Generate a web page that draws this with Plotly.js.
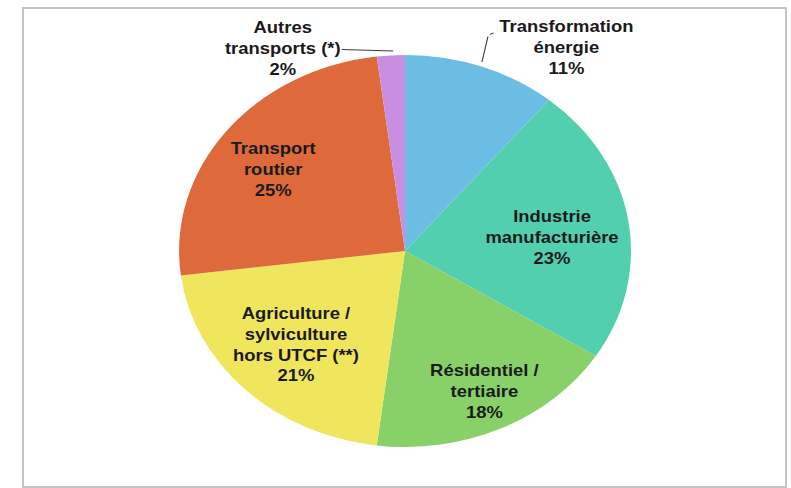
<!DOCTYPE html>
<html>
<head>
<meta charset="utf-8">
<script src="https://cdn.plot.ly/plotly-3.0.1.min.js"></script>
<style>
  html, body { margin: 0; padding: 0; background: #ffffff; overflow: hidden; }
  #wrap { position: relative; width: 791px; height: 488px; background: #ffffff; }
  #frame { position: absolute; left: 22px; top: 7px; width: 761px; height: 477px; border: 2px solid #c4c4c4; box-sizing: content-box; }
  #chart { position: absolute; left: 0; top: 0; width: 686px; height: 488px; transform: scaleX(1.153); transform-origin: 0 0; }
</style>
</head>
<body>
<div id="wrap">
  <div id="frame"></div>
  <div id="chart"></div>
</div>
<script>
// ---- data ----
const categories = [
  "Transformation<br>énergie",
  "Industrie<br>manufacturière",
  "Résidentiel /<br>tertiaire",
  "Agriculture /<br>sylviculture<br>hors UTCF (**)",
  "Transport<br>routier",
  "Autres<br>transports (*)"
];
const shares = [11, 23, 18, 21, 25, 2];

// ---- styles / label placement (pixels of the unscaled plot) ----
const sliceColors = ["#6cbde4", "#52cfae", "#88d068", "#efe65e", "#de6a3c", "#c88fe0"];
const labelX = [491, 479, 421, 256, 237, 245];
const labelY = [47, 238, 391, 344, 169, 48];
const leaderTipX = [null, null, null, null, null, 341];
const leaderTipY = [null, null, null, null, null, 51];

const W = 686, H = 488;
const font = { family: "Liberation Sans, Arial, sans-serif", size: 16, color: "#1a1a1a" };

const trace = {
  type: "pie",
  labels: categories,
  values: shares,
  sort: false,
  direction: "clockwise",
  rotation: 0,
  marker: { colors: sliceColors, line: { color: "rgba(255,255,255,0)", width: 0 } },
  textinfo: "none",
  hoverinfo: "none",
  showlegend: false,
  automargin: false,
  domain: { x: [0.2264, 0.7978], y: [0.084, 0.8873] }
};

const total = shares.reduce((a, b) => a + b, 0);
const annotations = categories.map((c, i) => {
  const txt = "<b>" + c + "</b><br><b>" + Math.round(shares[i] / total * 100) + "%</b>";
  if (leaderTipX[i] !== null) {
    return {
      xref: "paper", yref: "paper",
      x: leaderTipX[i] / W, y: 1 - leaderTipY[i] / H,
      ax: labelX[i] - leaderTipX[i], ay: labelY[i] - leaderTipY[i],
      text: txt, showarrow: true, arrowhead: 0, arrowwidth: 1, arrowcolor: "#3a3a3a",
      font: font, align: "center"
    };
  }
  return {
    xref: "paper", yref: "paper",
    x: labelX[i] / W, y: 1 - labelY[i] / H,
    xanchor: "center", yanchor: "middle",
    text: txt, showarrow: false, font: font, align: "center"
  };
});
// leader line for "Transformation énergie"
annotations.push({
  xref: "paper", yref: "paper",
  x: 418 / W, y: 1 - 62 / H, ax: 5.5, ay: -27,
  text: "", showarrow: true, arrowhead: 0, arrowwidth: 1, arrowcolor: "#3a3a3a"
});
annotations.push({
  xref: "paper", yref: "paper",
  x: 428 / W, y: 1 - 33 / H, ax: -4.6, ay: 2,
  text: "", showarrow: true, arrowhead: 0, arrowwidth: 1, arrowcolor: "#3a3a3a"
});

const layout = {
  width: W,
  height: H,
  margin: { l: 0, r: 0, t: 0, b: 0 },
  paper_bgcolor: "rgba(0,0,0,0)",
  plot_bgcolor: "rgba(0,0,0,0)",
  showlegend: false,
  annotations: annotations
};

Plotly.newPlot("chart", [trace], layout, { staticPlot: true, displayModeBar: false });
</script>
</body>
</html>
